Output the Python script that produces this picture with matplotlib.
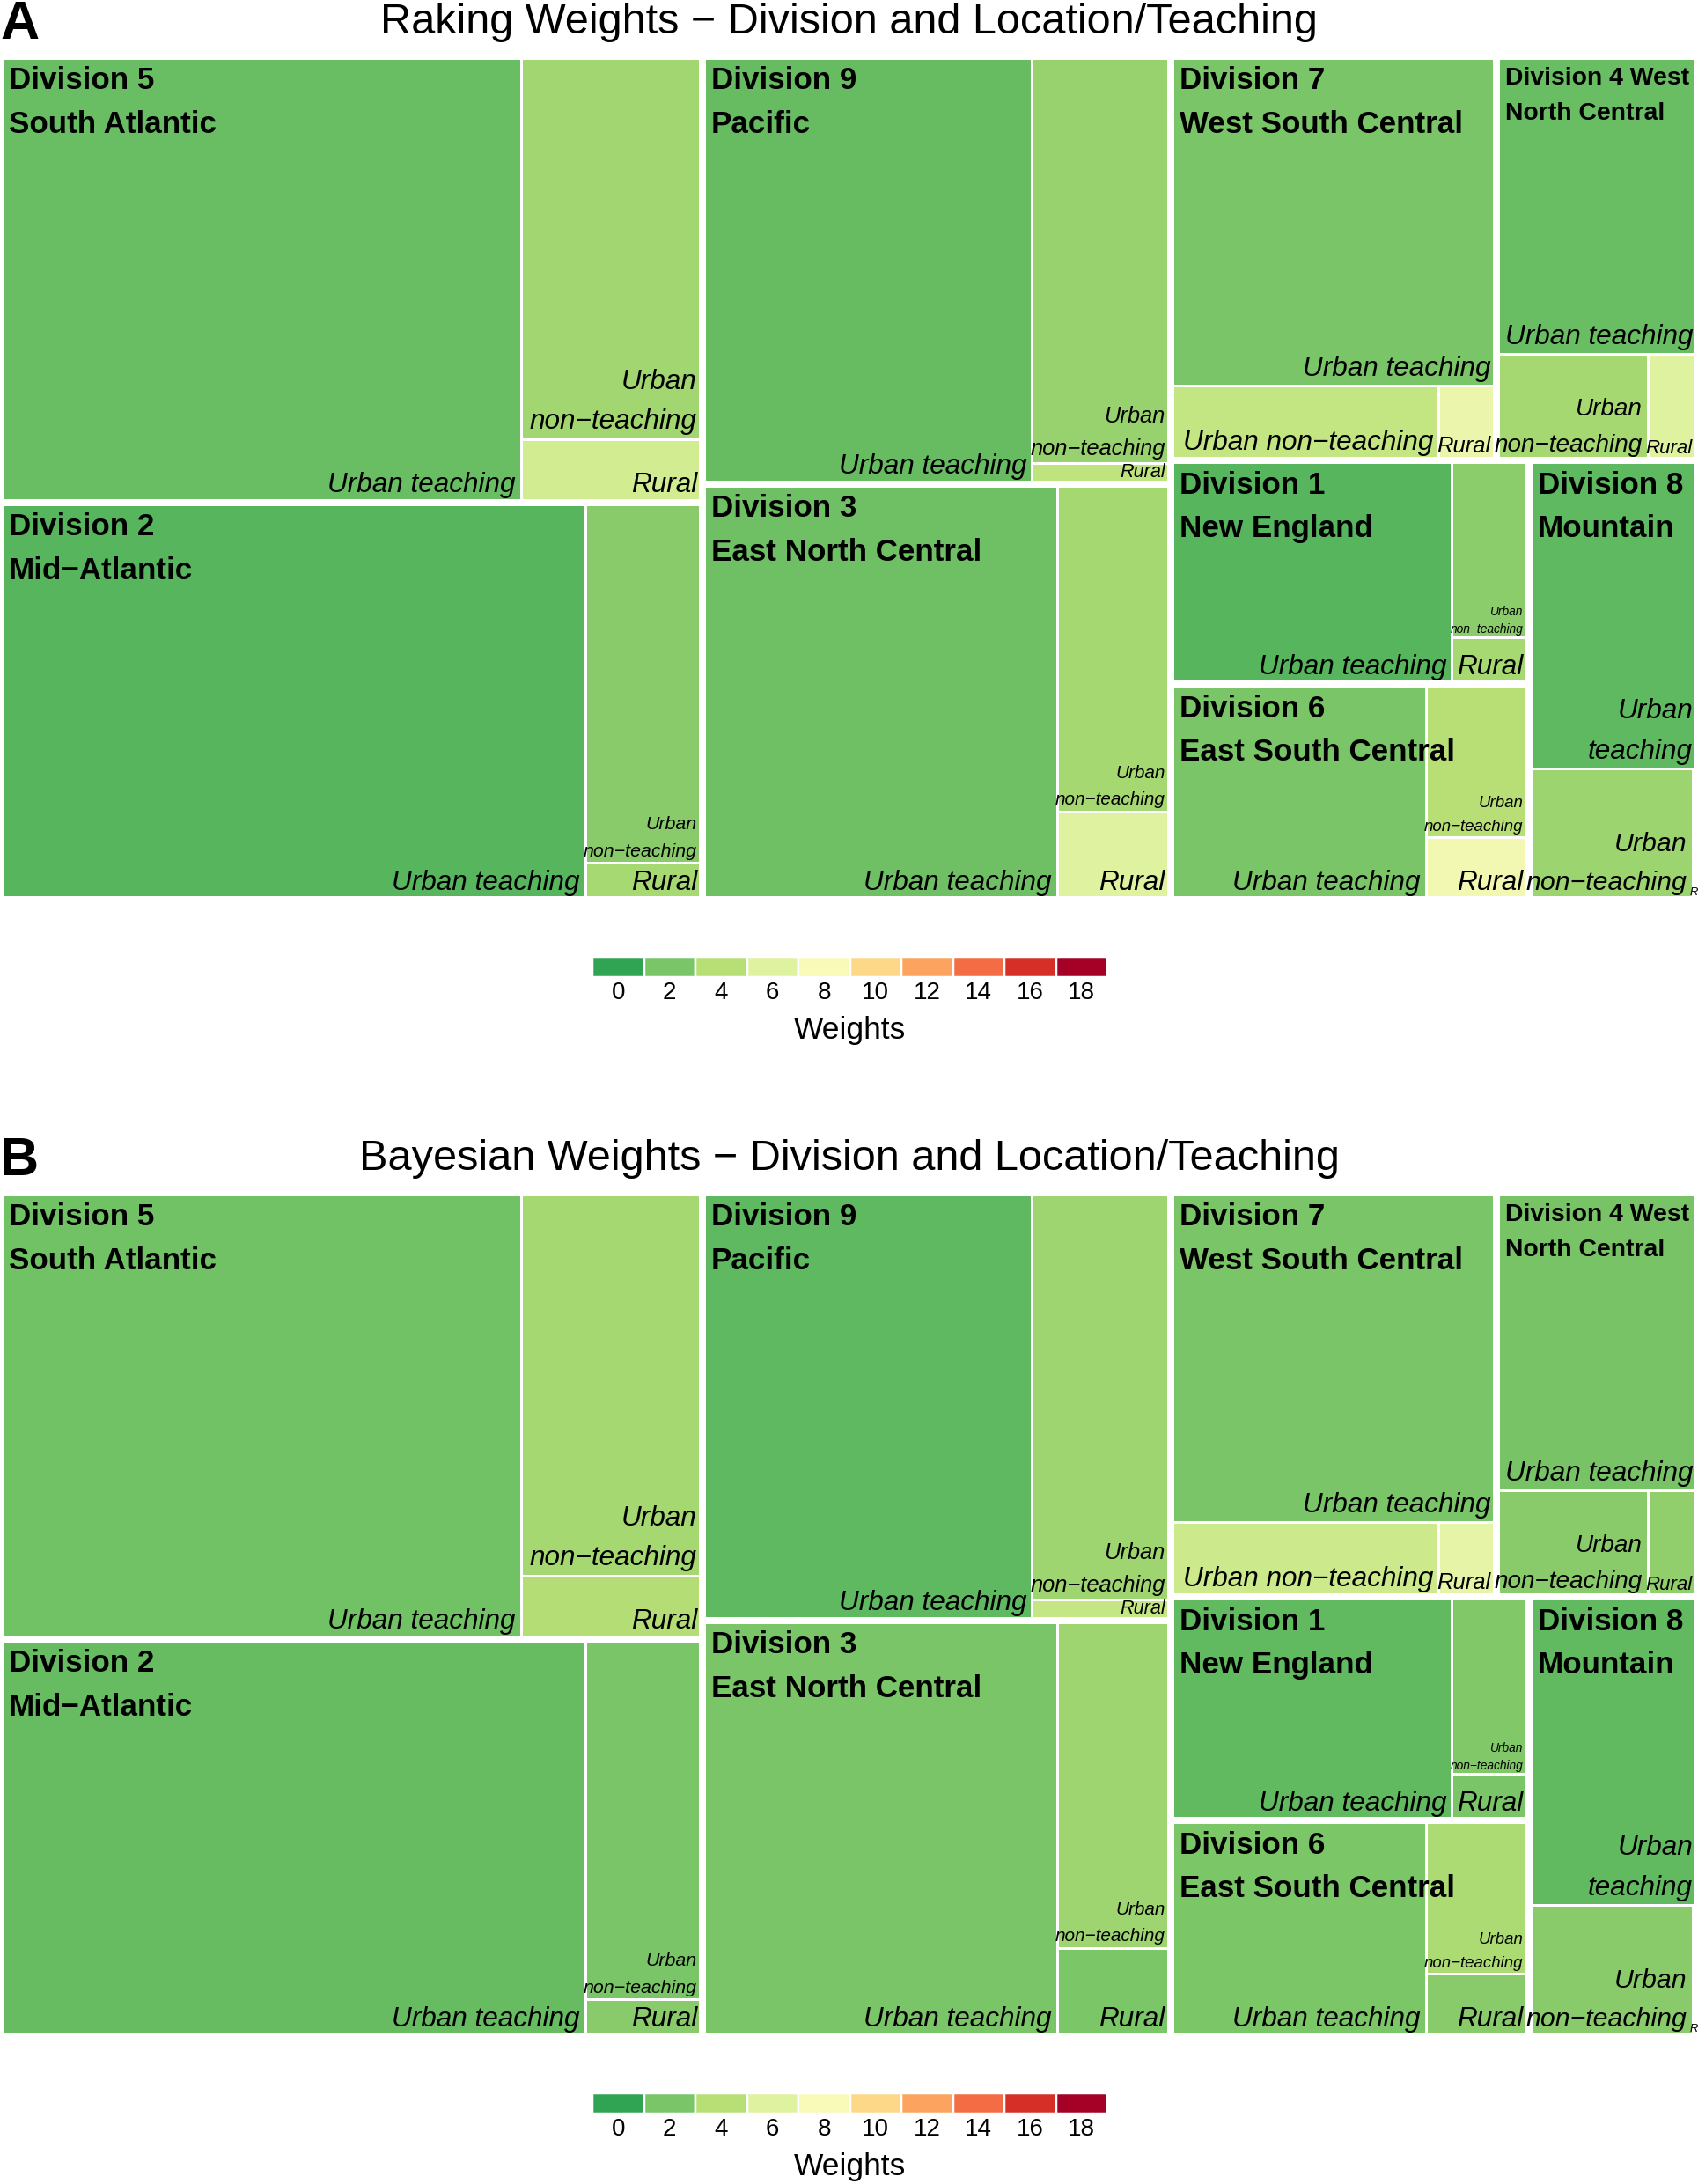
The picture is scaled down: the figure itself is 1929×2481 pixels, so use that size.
"""
Treemap of raking vs Bayesian weights by census division and location/teaching
Output: out.png
"""

import matplotlib
matplotlib.use('Agg')
import matplotlib.pyplot as plt
from matplotlib.colors import LinearSegmentedColormap, Normalize
from matplotlib.font_manager import FontProperties
from matplotlib.patches import Rectangle

plt.rcParams['font.family'] = ['Liberation Sans', 'DejaVu Sans']

# ---------------- data ----------------
divisions = [
    'Division 5\nSouth Atlantic',
    'Division 2\nMid\u2212Atlantic',
    'Division 9\nPacific',
    'Division 3\nEast North Central',
    'Division 7\nWest South Central',
    'Division 4 West\nNorth Central',
    'Division 1\nNew England',
    'Division 6\nEast South Central',
    'Division 8\nMountain',
]
groups = ['Urban teaching', 'Urban non\u2212teaching', 'Rural']

# number of hospitals (tile size)
n_urban_teaching = [325, 325, 197, 206, 150, 84, 88, 77, 73]
n_urban_nonteaching = [97, 59, 79, 52, 28, 22.5, 19, 22, 30]
n_rural = [16, 6, 4, 14, 6, 7.5, 5, 9, 1]

# weights (tile colour)
raking_ut = [1.6, 1.1, 1.5, 1.7, 2.0, 1.6, 1.1, 2.0, 1.3]
raking_unt = [3.3, 2.5, 3.0, 3.4, 4.6, 3.4, 2.6, 4.0, 3.1]
raking_rural = [5.3, 3.5, 4.4, 6.0, 7.0, 6.0, 3.5, 7.5, 5.0]

bayes_ut = [1.8, 1.5, 1.3, 2.0, 2.0, 1.9, 1.4, 2.1, 1.4]
bayes_unt = [3.4, 2.0, 3.2, 3.2, 5.0, 2.5, 2.2, 3.6, 2.5]
bayes_rural = [3.9, 2.5, 4.7, 2.1, 6.5, 2.8, 2.0, 2.5, 2.5]

legend_ticks = [0, 2, 4, 6, 8, 10, 12, 14, 16, 18]
legend_colors = ['#30a453', '#7ac567', '#b8e076', '#dff2a0', '#f9f9b8',
                 '#fed98a', '#fba35f', '#f46d45', '#d73027', '#a50026']

titles = ['Raking Weights \u2212 Division and Location/Teaching',
          'Bayesian Weights \u2212 Division and Location/Teaching']
panel_letters = ['A', 'B']

# ---------------- setup ----------------
W, H, DPI = 1929, 2481, 100
PX = 72 / DPI            # points per pixel
DIV_EM = 35.0            # division label size (px)
SUB_EM = 31.5            # group label size (px)

cmap = LinearSegmentedColormap.from_list(
    'weights', [(t / 18, c) for t, c in zip(legend_ticks, legend_colors)])
norm = Normalize(0, 18)

fig = plt.figure(figsize=(W / DPI, H / DPI), dpi=DPI)
renderer = fig.canvas.get_renderer()


def em_width(text, style='normal', weight='normal'):
    prop = FontProperties(family='Liberation Sans', style=style, weight=weight, size=100 * PX)
    w, _, _ = renderer.get_text_width_height_descent(text, prop, ismath=False)
    return w / 100.0


def worst(row, side):
    s = sum(row)
    return max(max(side * side * r / (s * s), s * s / (side * side * r)) for r in row)


def squarify(values, x, y, w, h):
    # squarified layout, y grows downwards; returns rects in the order of values
    order = sorted(range(len(values)), key=lambda i: -values[i])
    total = float(sum(values))
    areas = [values[i] * w * h / total for i in order]
    rects = [None] * len(values)
    i = 0
    while i < len(areas):
        side = min(w, h)
        row = [areas[i]]
        j = i + 1
        while j < len(areas) and worst(row + [areas[j]], side) <= worst(row, side):
            row.append(areas[j])
            j += 1
        s = sum(row)
        if w >= h:
            cw = s / h
            yy = y
            for k, a in enumerate(row):
                rects[order[i + k]] = (x, yy, cw, a / cw)
                yy += a / cw
            x += cw
            w -= cw
        else:
            rh = s / w
            xx = x
            for k, a in enumerate(row):
                rects[order[i + k]] = (xx, y, a / rh, rh)
                xx += a / rh
            y += rh
            h -= rh
        i = j
    return rects


def fit_group_label(label, w, h):
    words = label.split(' ')
    options = [[label]]
    if len(words) > 1:
        options.append([words[0], ' '.join(words[1:])])
    best = (0, [label])
    for lines in options:
        wmax = max(em_width(l, style='italic') for l in lines)
        size = min(SUB_EM, (w - 4) / wmax, h / (1.08 + 1.45 * (len(lines) - 1)))
        if size > best[0] + 0.01:
            best = (size, lines)
    return best


def draw_treemap(ax, tw, th, w_ut, w_unt, w_rural):
    ax.set_xlim(0, tw)
    ax.set_ylim(th, 0)
    ax.axis('off')
    weights = [w_ut, w_unt, w_rural]
    div_sizes = [a + b + c for a, b, c in zip(n_urban_teaching, n_urban_nonteaching, n_rural)]
    div_rects = squarify(div_sizes, 0, 0, tw, th)
    for d, (x, y, w, h) in enumerate(div_rects):
        sizes = [n_urban_teaching[d], n_urban_nonteaching[d], n_rural[d]]
        for g, (sx, sy, sw, sh) in enumerate(squarify(sizes, x, y, w, h)):
            ax.add_patch(Rectangle((sx, sy), sw, sh, facecolor=cmap(norm(weights[g][d])),
                                   edgecolor='none', zorder=1))
            ax.add_patch(Rectangle((sx, sy), sw, sh, fill=False, edgecolor='white',
                                   lw=3 * PX, zorder=2))
            size, lines = fit_group_label(groups[g], sw, sh)
            if size < 10:
                # tile too thin: tiny label cut at the tile
                size = 13
                t = ax.text(sx - 3, sy + sh - 0.36 * size, lines[-1], ha='left',
                            va='baseline', style='italic', fontsize=size * PX, zorder=4)
                t.set_clip_path(Rectangle((sx - 3, sy), sw + 8, sh, transform=ax.transData))
                continue
            for k, line in enumerate(reversed(lines)):
                ax.text(sx + sw - 6, sy + sh - 0.36 * size - k * 1.45 * size, line,
                        ha='right', va='baseline', style='italic',
                        fontsize=size * PX, color='black', zorder=4)
        ax.add_patch(Rectangle((x, y), w, h, fill=False, edgecolor='white',
                               lw=8 * PX, zorder=3))
        lines = divisions[d].split('\n')
        wmax = max(em_width(l, weight='bold') for l in lines)
        size = min(DIV_EM, (w - 20) / wmax)
        for k, line in enumerate(lines):
            ax.text(x + 10, y + 8 + 0.85 * size + k * 1.42 * size, line,
                    ha='left', va='baseline', fontweight='bold',
                    fontsize=size * PX, color='black', zorder=4)


def draw_legend(ax):
    ax.set_xlim(legend_ticks[0] - 1, legend_ticks[-1] + 1)
    ax.set_ylim(0, 1)
    ax.axis('off')
    for t in legend_ticks:
        ax.add_patch(Rectangle((t - 1, 0), 2, 1, facecolor=cmap(norm(t)),
                               edgecolor='white', lw=2.5 * PX))
        ax.text(t, -0.8, str(t), transform=ax.get_xaxis_transform(),
                ha='center', va='center', fontsize=20)
    ax.text(9, -2.65, 'Weights', transform=ax.get_xaxis_transform(),
            ha='center', va='center', fontsize=25.5)


panel_offsets = [0, 1291]
panel_weights = [(raking_ut, raking_unt, raking_rural),
                 (bayes_ut, bayes_unt, bayes_rural)]

for p, dy in enumerate(panel_offsets):
    # panel letter and title
    fig.text(0 / W, 1 - (dy + 44) / H, panel_letters[p], fontsize=44,
             fontweight='bold', ha='left', va='baseline')
    fig.text(0.5, 1 - (dy + 38) / H, titles[p], fontsize=35,
             ha='center', va='baseline')

    top, bottom = dy + 63.6, dy + 1022
    ax = fig.add_axes([0, 1 - bottom / H, 1, (bottom - top) / H])
    draw_treemap(ax, W, bottom - top, *panel_weights[p])

    ltop, lbot = dy + 1087, dy + 1110
    lax = fig.add_axes([673 / W, 1 - lbot / H, 585 / W, (lbot - ltop) / H])
    draw_legend(lax)

fig.savefig('out.png', dpi=DPI, facecolor='white')
print("Generated: out.png")
